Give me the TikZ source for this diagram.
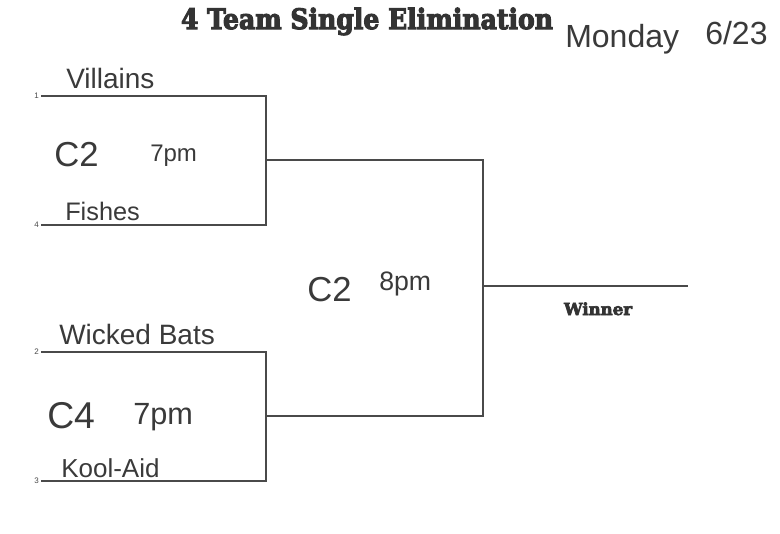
\documentclass[tikz,border=0pt]{standalone}
\usepackage{fontspec}
\setmainfont{Liberation Sans}
\newfontfamily\slabfont{DejaVu Serif}[BoldFeatures={FakeBold=4}]
\newfontfamily\handfont{Liberation Sans}
\definecolor{ink}{HTML}{4A4A4A}
\definecolor{title}{HTML}{333333}
\definecolor{pen}{HTML}{3A3A3A}
\begin{document}
\begin{tikzpicture}[x=0.75pt,y=-0.75pt,
  bline/.style={draw=ink,line width=1.1pt},
  seed/.style={font=\fontsize{6}{6}\selectfont,text=ink,anchor=base east,inner sep=0pt},
  hand/.style={font=\handfont\fontsize{21}{21}\selectfont,text=pen,anchor=base west,inner sep=0pt},
  heading/.style={font=\slabfont\bfseries\fontsize{15}{15}\selectfont,text=title,inner sep=0pt}]
\useasboundingbox[fill=white] (0,0) rectangle (780,533);
% coordinates
\coordinate (a1) at (41,96);  \coordinate (b1) at (266,96);
\coordinate (a4) at (41,225); \coordinate (b4) at (266,225);
\coordinate (a2) at (41,352); \coordinate (b2) at (266,352);
\coordinate (a3) at (41,481); \coordinate (b3) at (266,481);
\coordinate (m1) at (266,160); \coordinate (n1) at (483,160);
\coordinate (m2) at (266,416); \coordinate (n2) at (483,416);
\coordinate (f) at (483,286); \coordinate (w) at (688,286);
% lines
\draw[bline] (a1) -- (b1) -- (b4) -- (a4);
\draw[bline] (a2) -- (b2) -- (b3) -- (a3);
\draw[bline] (m1) -- (n1) -- (n2) -- (m2);
\draw[bline] (f) -- (w);
% seeds
\node[seed] (s1) at (39,98) {1};
\node[seed] (s4) at (39,227) {4};
\node[seed] (s2) at (39,354) {2};
\node[seed] (s3) at (39,483) {3};
% title
\node[heading,anchor=base] (ttl) at (367,29) {\resizebox{279pt}{16pt}{4 Team Single Elimination}};
\node[hand,font=\handfont\fontsize{24}{24}\selectfont] (day) at (565,47) {Monday};
\node[hand,font=\handfont\fontsize{24}{24}\selectfont] (dt) at (705,44) {6/23};
% teams
\node[hand] (t1) at (66,88) {Villains};
\node[hand,font=\handfont\fontsize{19}{19}\selectfont] (t4) at (65,220) {Fishes};
\node[hand] (t2) at (59,344) {Wicked Bats};
\node[hand,font=\handfont\fontsize{19.5}{19.5}\selectfont] (t3) at (61,477) {Kool-Aid};
% games
\node[hand,font=\handfont\fontsize{26}{26}\selectfont] (g1c) at (54,166) {C2};
\node[hand,font=\handfont\fontsize{18}{18}\selectfont] (g1t) at (150,161) {7pm};
\node[hand,font=\handfont\fontsize{28}{28}\selectfont] (g2c) at (47,428) {C4};
\node[hand,font=\handfont\fontsize{23}{23}\selectfont] (g2t) at (133,424) {7pm};
\node[hand,font=\handfont\fontsize{26}{26}\selectfont] (g3c) at (307,301) {C2};
\node[hand,font=\handfont\fontsize{20}{20}\selectfont] (g3t) at (379,290) {8pm};
% winner
\node[font=\slabfont\bfseries\fontsize{13}{13}\selectfont,text=title,inner sep=0pt,anchor=base] (win) at (598,315) {\resizebox{51pt}{!}{Winner}};
\end{tikzpicture}
\end{document}
